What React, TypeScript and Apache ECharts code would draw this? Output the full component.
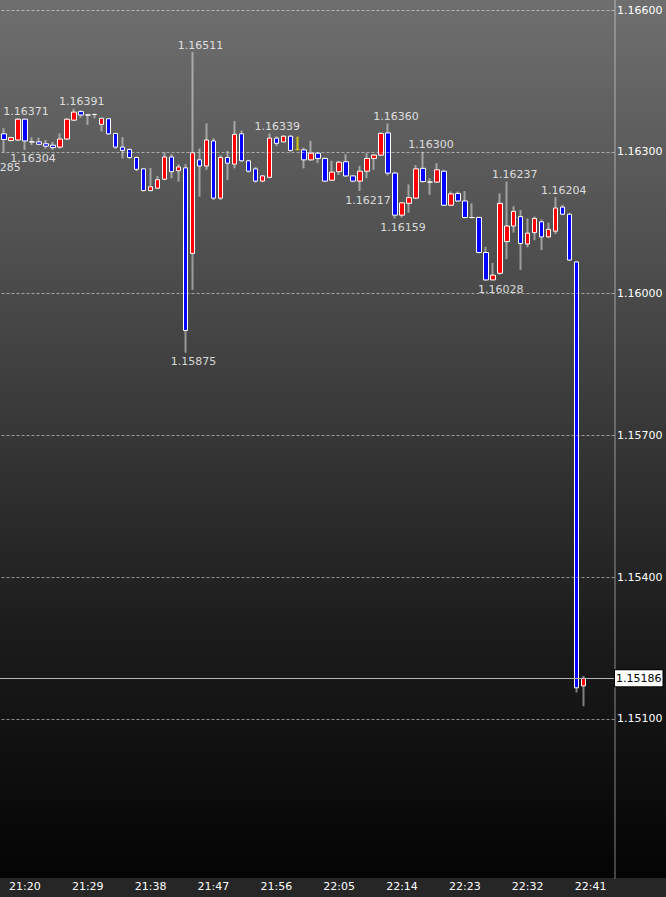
import React, { useEffect, useRef } from 'react';
import * as echarts from 'echarts';

// ---- categories (one-minute bars) ----
const startMinute = 21 * 60 + 15; // 21:15
const barCount = 90; // 21:15 .. 22:44
const times: string[] = [];
for (let i = 0; i < barCount; i++) {
  const m = startMinute + i;
  times.push(`${Math.floor(m / 60)}:${String(m % 60).padStart(2, '0')}`);
}

// ---- tick labels ----
const timeTicks = ['21:20', '21:29', '21:38', '21:47', '21:56', '22:05', '22:14', '22:23', '22:32', '22:41'];
const priceTicks = [1.151, 1.154, 1.157, 1.16, 1.163, 1.166];

// ---- OHLC, first bar at 21:17 ----
const firstBar = '21:17';
const opens = [
  1.16338, 1.16324, 1.16325, 1.16369, 1.16321, 1.16321, 1.16317, 1.16314, 1.1631, 1.16327,
  1.16367, 1.16385, 1.16378, 1.16379, 1.16358, 1.1637, 1.16339, 1.1631, 1.16305, 1.16288,
  1.16264, 1.16218, 1.16223, 1.16242, 1.16289, 1.1626, 1.16266, 1.16085, 1.16283, 1.1627,
  1.16323, 1.16202, 1.16288, 1.16274, 1.16338, 1.16281, 1.16264, 1.16238, 1.16246, 1.16329,
  1.16321, 1.16333, 1.16305, 1.16304, 1.16283, 1.16297, 1.16286, 1.1624, 1.16258, 1.16279,
  1.16249, 1.16238, 1.16259, 1.16286, 1.16293, 1.1634, 1.16255, 1.16166, 1.16191, 1.16202,
  1.16265, 1.16236, 1.16236, 1.16259, 1.16187, 1.16212, 1.16196, 1.16161, 1.16161, 1.16087,
  1.16029, 1.16043, 1.1611, 1.16143, 1.16163, 1.16105, 1.16129, 1.16152, 1.1612, 1.16132,
  1.16183, 1.16168, 1.16067, 1.1517,
];
const closes = [
  1.16326, 1.1633, 1.16369, 1.16323, 1.16321, 1.16316, 1.16312, 1.16309, 1.16327, 1.16369,
  1.16384, 1.16378, 1.16378, 1.16379, 1.16371, 1.16338, 1.1631, 1.16303, 1.16288, 1.16263,
  1.16218, 1.16226, 1.16241, 1.16289, 1.16258, 1.16268, 1.15922, 1.16298, 1.1627, 1.16325,
  1.16202, 1.16288, 1.16276, 1.16337, 1.16281, 1.16259, 1.16238, 1.16249, 1.16329, 1.16318,
  1.16333, 1.16303, 1.16305, 1.16283, 1.16297, 1.16286, 1.16238, 1.16257, 1.16278, 1.16249,
  1.16238, 1.16259, 1.16286, 1.16293, 1.16339, 1.16255, 1.16166, 1.16192, 1.16203, 1.16264,
  1.16237, 1.16236, 1.16262, 1.16187, 1.16211, 1.16196, 1.16161, 1.16161, 1.16087, 1.16029,
  1.16039, 1.16191, 1.16143, 1.16174, 1.16106, 1.16128, 1.16159, 1.1612, 1.16136, 1.16181,
  1.16168, 1.16071, 1.15166, 1.15186,
];
const lows = [
  1.16299, 1.16322, 1.16323, 1.16304, 1.16314, 1.16314, 1.16307, 1.16304, 1.16307, 1.16325,
  1.16365, 1.16372, 1.16357, 1.16371, 1.16343, 1.16336, 1.16306, 1.16286, 1.16285, 1.16259,
  1.16216, 1.16216, 1.16221, 1.1624, 1.16244, 1.16237, 1.15875, 1.16008, 1.16205, 1.16262,
  1.16198, 1.16198, 1.1624, 1.16265, 1.16279, 1.16256, 1.16235, 1.16236, 1.16244, 1.16312,
  1.1632, 1.163, 1.16303, 1.16265, 1.16281, 1.16276, 1.16236, 1.16238, 1.16251, 1.16247,
  1.16236, 1.16217, 1.16244, 1.16262, 1.16291, 1.1625, 1.16159, 1.16161, 1.16171, 1.162,
  1.16235, 1.16209, 1.16234, 1.16185, 1.16185, 1.16194, 1.16159, 1.16159, 1.16085, 1.16027,
  1.16028, 1.1604, 1.16073, 1.16129, 1.1605, 1.16098, 1.16113, 1.16092, 1.16118, 1.16126,
  1.16166, 1.16069, 1.15156, 1.15127,
];
const highs = [
  1.1635, 1.16332, 1.16371, 1.1637, 1.16331, 1.1633, 1.16325, 1.16321, 1.16339, 1.16371,
  1.16391, 1.16388, 1.16379, 1.16381, 1.16372, 1.16371, 1.1634, 1.16331, 1.16307, 1.1629,
  1.16265, 1.16266, 1.16249, 1.16299, 1.16295, 1.16274, 1.16274, 1.16511, 1.16307, 1.1636,
  1.16329, 1.16293, 1.16302, 1.16365, 1.16345, 1.16283, 1.16268, 1.16251, 1.16339, 1.16333,
  1.16335, 1.16335, 1.16332, 1.16309, 1.16323, 1.16299, 1.16288, 1.16281, 1.16281, 1.16295,
  1.1625, 1.1627, 1.16297, 1.16295, 1.16341, 1.1636, 1.16258, 1.16193, 1.16231, 1.16272,
  1.163, 1.16244, 1.16276, 1.16262, 1.16216, 1.16216, 1.16217, 1.16191, 1.16163, 1.16099,
  1.16065, 1.16212, 1.16237, 1.16185, 1.16177, 1.16159, 1.16163, 1.16157, 1.1615, 1.16204,
  1.16188, 1.1617, 1.16069, 1.15191,
];
const yellowDojiTime = '21:59';

// ---- annotated extremes ----
const highLabelTimes = ['21:19', '21:27', '21:44', '21:55', '22:12', '22:17', '22:29', '22:36'];
const highLabelValues = [1.16371, 1.16391, 1.16511, 1.16339, 1.1636, 1.163, 1.16237, 1.16204];
const lowLabelTimes = ['21:15', '21:20', '21:43', '22:08', '22:13', '22:27'];
const lowLabelValues = [1.16285, 1.16304, 1.15875, 1.16217, 1.16159, 1.16028];

const lastPrice = 1.15186;

const FONT = 'DejaVu Sans';
const WICK = 'rgba(255,255,255,0.45)';
const YELLOW = '#d2c21a';

export default function App() {
  const ref = useRef<HTMLDivElement>(null);

  useEffect(() => {
    if (!ref.current) return;
    const chart = echarts.init(ref.current, undefined, { renderer: 'svg' });
    const offset = times.indexOf(firstBar);

    const wickData = times.map((t, i) => {
      const k = i - offset;
      if (k < 0 || k >= opens.length) return '-';
      const v = [opens[k], closes[k], lows[k], highs[k]];
      if (t === yellowDojiTime) {
        return {
          value: v,
          itemStyle: { color: YELLOW, color0: YELLOW, borderColor: YELLOW, borderColor0: YELLOW, borderColorDoji: YELLOW },
        };
      }
      return v;
    });
    const bodyData = times.map((t, i) => {
      const k = i - offset;
      if (k < 0 || k >= opens.length) return '-';
      const o = opens[k];
      const c = closes[k];
      const v = [o, c, Math.min(o, c), Math.max(o, c)];
      if (t === yellowDojiTime) {
        return {
          value: v,
          itemStyle: { borderColor: YELLOW, borderColor0: YELLOW, borderColorDoji: YELLOW },
        };
      }
      return v;
    });

    const tickSet = new Set(timeTicks);
    const yMin = 1.147636;
    const yMax = 1.166212;

    chart.setOption({
      animation: false,
      backgroundColor: {
        type: 'linear',
        x: 0, y: 0, x2: 0, y2: 1,
        colorStops: [
          { offset: 0, color: '#6f6f6f' },
          { offset: 0.35, color: '#474747' },
          { offset: 0.7, color: '#1c1c1c' },
          { offset: 878 / 897, color: '#040404' },
          { offset: 878 / 897, color: '#262626' },
          { offset: 1, color: '#262626' },
        ],
      },
      textStyle: { fontFamily: FONT },
      grid: { left: -13.5, right: 51, top: 0, bottom: 19, outerBoundsMode: 'none', containLabel: false },
      xAxis: {
        type: 'category',
        data: times,
        boundaryGap: true,
        axisLine: { show: false },
        axisTick: { show: false },
        splitLine: { show: false },
        axisLabel: {
          interval: (index: number, value: string) => tickSet.has(value),
          color: '#ffffff',
          fontSize: 11,
          fontFamily: FONT,
          margin: 3,
          hideOverlap: false,
        },
      },
      yAxis: {
        type: 'value',
        position: 'right',
        min: yMin,
        max: yMax,
        scale: true,
        axisLine: { show: true, lineStyle: { color: 'rgba(255,255,255,0.25)', width: 2 } },
        axisTick: { show: false, customValues: priceTicks },
        axisLabel: {
          customValues: priceTicks,
          formatter: (v: number) => v.toFixed(5),
          color: '#ffffff',
          fontSize: 11,
          fontFamily: FONT,
          margin: 2,
        },
        splitLine: { show: false },
      },
      series: [
        {
          name: 'grid',
          type: 'line',
          data: [],
          silent: true,
          markLine: {
            silent: true,
            precision: 5,
            symbol: ['none', 'none'],
            label: { show: false },
            lineStyle: { color: 'rgba(255,255,255,0.5)', width: 1, type: [3, 2] },
            data: priceTicks.map((p) => ({ yAxis: p })),
          },
        },
        {
          name: 'wick',
          type: 'candlestick',
          barWidth: 1,
          silent: true,
          data: wickData,
          itemStyle: {
            color: WICK, color0: WICK, borderColor: WICK, borderColor0: WICK, borderColorDoji: WICK, borderWidth: 2,
          },
        },
        {
          name: 'body',
          type: 'candlestick',
          barWidth: 5,
          silent: true,
          data: bodyData,
          itemStyle: {
            color: '#ff0000', color0: '#0000ff', borderColor: '#ffffff', borderColor0: '#ffffff', borderColorDoji: '#ffffff', borderWidth: 1,
          },
          markLine: {
            silent: true,
            precision: 5,
            symbol: ['none', 'none'],
            lineStyle: { color: '#b4b4b4', width: 1, type: 'solid' },
            label: {
              show: true,
              position: 'end',
              distance: 0,
              formatter: () => lastPrice.toFixed(5),
              color: '#000000',
              backgroundColor: '#ffffff',
              borderColor: '#000000',
              borderWidth: 1,
              padding: [3, 1, 2, 1],
              fontSize: 11,
              fontFamily: FONT,
            },
            data: [{ yAxis: lastPrice }],
          },
        },
        {
          name: 'highs',
          type: 'scatter',
          symbolSize: 1,
          silent: true,
          itemStyle: { color: 'rgba(0,0,0,0)' },
          data: highLabelTimes.map((t, i) => [t, highLabelValues[i]]),
          label: {
            show: true,
            position: 'top',
            distance: 1,
            offset: [8, 0],
            formatter: (p: any) => Number(p.value[1]).toFixed(5),
            color: '#ffffff',
            fontSize: 11,
            fontFamily: FONT,
          },
        },
        {
          name: 'lows',
          type: 'scatter',
          symbolSize: 1,
          silent: true,
          itemStyle: { color: 'rgba(0,0,0,0)' },
          data: lowLabelTimes.map((t, i) => [t, lowLabelValues[i]]),
          label: {
            show: true,
            position: 'bottom',
            distance: 3,
            offset: [8, 0],
            formatter: (p: any) => Number(p.value[1]).toFixed(5),
            color: '#ffffff',
            fontSize: 11,
            fontFamily: FONT,
          },
        },
      ],
    });

    return () => chart.dispose();
  }, []);

  return (
    <div
      ref={ref}
      style={{ position: 'fixed', left: 0, top: 0, width: 666, height: 897 }}
    />
  );
}
